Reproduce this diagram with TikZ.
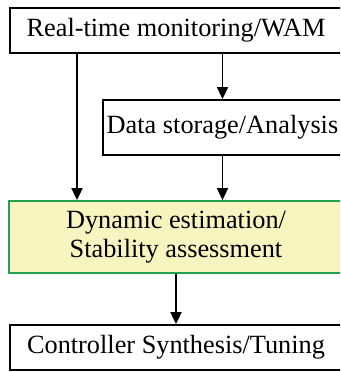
\documentclass[tikz,border=0pt]{standalone}
\usepackage{fontspec}
\setmainfont{Liberation Serif}
\usetikzlibrary{arrows.meta}

\definecolor{estfill}{HTML}{F7F4C0}
\definecolor{estline}{HTML}{23A150}

\tikzset{
  stage/.style={draw,line width=1.8pt,rectangle,inner sep=0pt,anchor=center,
    font=\fontsize{26.3}{29}\selectfont,align=center},
  flow/.style={line width=1.8pt,-{Triangle[length=12pt,width=11pt]}}
}

\begin{document}
\begin{tikzpicture}[x=1pt,y=-1pt]
    \clip (0,0) rectangle (340,372);

    \node [stage,minimum width=332pt,minimum height=45pt] (mon) at (176,30.5) {Real-time monitoring/WAM};
    \node [stage,minimum width=239pt,minimum height=55pt] (store) at (222.5,127.5) {Data storage/Analysis};
    \node [stage,draw=estline,fill=estfill,minimum width=334pt,minimum height=72pt] (est) at (176,237) {Dynamic estimation/\\Stability assessment};
    \node [stage,minimum width=332pt,minimum height=45pt] (ctrl) at (176,347.5) {Controller Synthesis/Tuning};

    \coordinate (lft) at (77,0);

    \draw [flow] (mon.south -| lft) -- (est.north -| lft);
    \draw [flow] (mon.south -| store.north) -- (store.north);
    \draw [flow] (store.south) -- (est.north -| store.south);
    \draw [flow] (est.south) -- (ctrl.north);
\end{tikzpicture}
\end{document}
